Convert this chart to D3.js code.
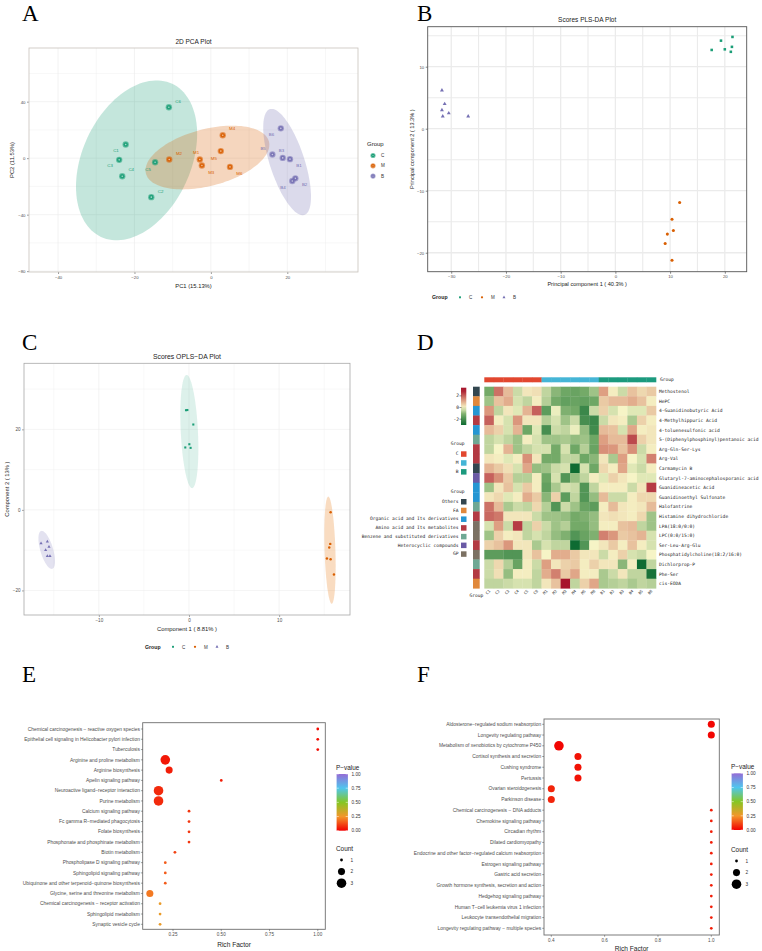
<!DOCTYPE html>
<html><head><meta charset="utf-8">
<script src="https://cdn.jsdelivr.net/npm/d3@7/dist/d3.min.js"></script>
<style>
html,body{margin:0;padding:0;background:#fff;}
svg text{font-family:"Liberation Sans",Arial,sans-serif;}
</style></head>
<body><svg id="fig" width="762" height="951"></svg>
<script>
// ---------------- DATA ----------------
const groupNames = ["C","M","B"];
const groupColors = {C:"#1B9E77", M:"#D95F02", B:"#7570B3"};

// Panel A – PCA
const pcaLabels = ["C1","C2","C3","C4","C5","C6","M1","M2","M3","M4","M5","M6","B1","B2","B3","B4","B5","B6"];
const pcaX = [-22.3,-15.6,-24.0,-23.2,-14.6,-11.0, -2.9,-10.9,-2.35,3.1,2.6,5.0, 20.7,22.1,18.8,21.3,16.1,18.3];
const pcaY = [9.7,-27.6,-1.2,-12.8,-2.9,36.1, -0.95,-0.95,-5.2,16.2,5.0,-6.2, -0.7,-14.3,0.2,-16.2,2.6,21.1];
const pcaXTicks = [-40,-20,0,20];
const pcaYTicks = [-80,-40,0,40];
// ellipse params: centre, half-extents, correlation
const pcaEllCx = [-19.45,-0.9,19.95], pcaEllCy = [-1.55,0.45,-2.75];
const pcaEllHx = [15.85,16.2,6.25], pcaEllHy = [56.6,22.55,37.65], pcaEllRho = [0.33,0.4,-0.65];

// Panel B – PLS-DA
const plsGroup = ["C","C","C","C","C","C","M","M","M","M","M","M","B","B","B","B","B","B"];
const plsX = [21.4,19.3,21.3,17.6,20.0,21.1, 11.75,10.35,10.6,9.5,9.1,10.35, -31.7,-31.2,-31.7,-30.45,-31.55,-26.9];
const plsY = [14.8,14.2,13.2,12.7,12.8,12.4, -11.9,-14.6,-16.4,-17.0,-18.5,-21.2, 6.2,4.0,3.0,2.5,2.0,2.0];
const plsXTicks = [-30,-20,-10,0,10,20];
const plsYTicks = [-20,-10,0,10];

// Panel C – OPLS-DA
const oplsGroup = plsGroup;
const oplsX = [-0.33,-0.18,0.48,0.04,-0.41,0.18, 15.71,15.67,15.56,15.3,15.71,16.08, -16.41,-15.71,-15.53,-15.9,-15.71,-15.42];
const oplsY = [24.75,24.8,21.2,16.3,15.5,15.4, -0.58,-8.44,-9.35,-12.09,-12.25,-16.06, -8.28,-7.86,-9.19,-10.0,-11.5,-11.5];
const oplsXTicks = [-10,0,10];
const oplsYTicks = [-20,0,20];
const oplsEllCx = [0.04,15.64,-15.78], oplsEllCy = [19.45,-10.0,-9.93];
const oplsEllHx = [1.0,0.63,0.92], oplsEllHy = [14.05,13.3,4.72], oplsEllRho = [-0.3,-0.3,-0.6];

// Panel D – heatmap
const hmCols = ["C1","C2","C3","C4","C5","C6","M1","M2","M3","M4","M5","M6","B1","B2","B3","B4","B5","B6"];
const hmColGroup = ["C","C","C","C","C","C","M","M","M","M","M","M","B","B","B","B","B","B"];
const hmRows = ["Methostenol","HePC","4-Guanidinobutyric Acid","4-Methylhippuric Acid","4-toluenesulfonic acid",
 "5-(Diphenylphosphinyl)pentanoic acid","Arg-Gln-Ser-Lys","Arg-Val","Carmamycin B","Glutaryl-7-aminocephalosporanic acid",
 "Guanidineacetic Acid","Guanidinoethyl Sulfonate","Halofantrine","Histamine dihydrochloride","LPA(18:0/0:0)",
 "LPC(0:0/15:0)","Ser-Leu-Arg-Glu","Phosphatidylcholine(18:2/16:0)","Dichlorprop-P","Phe-Ser","cis-EODA"];
const hmRowClass = ["Others","FA","Organic acid and Its derivatives","Amino acid and Its metabolites","Organic acid and Its derivatives",
 "Benzene and substituted derivatives","Amino acid and Its metabolites","Amino acid and Its metabolites","Others","Heterocyclic compounds",
 "Organic acid and Its derivatives","Organic acid and Its derivatives","Benzene and substituted derivatives","Amino acid and Its metabolites","GP",
 "GP","Amino acid and Its metabolites","GP","Benzene and substituted derivatives","Amino acid and Its metabolites","FA"];
const hmValues = [
 [-1.2,1.8,0.8,-0.4,0.2,0.3, -0.5,-1.0,-1.3,-1.4,-1.2,-0.8, 1.2,0.1,-0.4,0.7,0.4,0.6],
 [-0.8,0.7,1.0,-0.3,-0.5,0.1, -0.6,-1.2,-1.5,-1.4,-1.5,-1.3, 0.6,0.8,0.8,1.0,0.7,0.1],
 [1.3,-0.5,0.2,-0.2,0.9,2.0, -1.6,-0.1,-1.1,-1.2,-2.2,-0.4, 0.5,-0.3,0.0,-0.2,-0.2,0.6],
 [2.0,0.1,-0.3,1.3,0.2,0.2, -0.6,-0.3,-0.8,-0.4,-2.0,-2.2, -0.4,0.2,0.1,-0.7,0.5,0.1],
 [0.8,0.5,-0.3,0.9,-1.3,-0.2, -2.0,-0.4,-0.5,-0.1,-0.9,-2.1, 0.8,0.7,-0.3,1.1,0.1,0.2],
 [-0.5,-0.3,-0.5,-0.8,0.1,-0.3, -0.8,-0.8,-0.7,-0.9,-0.8,-1.3, 1.2,0.8,0.8,2.3,0.5,0.2],
 [-0.5,0.0,0.9,-0.8,-0.5,-0.3, -0.3,-1.2,-0.3,-1.3,-0.6,-1.4, 1.4,1.3,0.7,1.4,-0.4,0.1],
 [0.2,0.1,-0.2,0.1,1.4,0.2, -1.2,-1.2,-0.5,-0.5,-1.3,-1.0, 0.2,-0.7,1.2,0.0,-0.3,1.6],
 [0.9,0.6,0.3,-0.3,1.1,-0.9, -0.8,-0.4,-0.3,-3.0,-0.3,-1.3, 0.4,0.1,1.1,-0.2,-0.4,0.1],
 [2.0,1.4,0.6,-0.6,-0.6,0.1, -1.3,-0.3,-1.8,-0.9,-0.5,0.1, -0.2,0.5,0.2,0.0,-0.2,-0.2],
 [-0.8,0.2,0.7,-0.3,0.6,0.1, -1.5,-0.7,-0.3,-0.4,-1.8,-0.5, 0.1,0.1,0.1,-0.4,0.2,2.5],
 [0.2,0.4,-0.2,0.1,1.0,0.6, -1.0,0.5,-1.6,-0.5,-1.8,-0.9, 0.8,-0.4,-0.4,0.1,0.4,0.4],
 [1.8,0.8,-0.7,-0.4,-0.5,0.4, -0.6,-1.8,-0.4,-0.8,-1.4,-1.6, 0.1,0.8,0.2,0.1,0.2,0.8],
 [1.9,1.7,0.2,0.2,0.2,-0.4, -0.8,-0.8,-0.9,-1.2,-1.1,-0.9, 0.2,0.3,0.2,0.1,0.4,-0.8],
 [-0.3,1.2,-0.4,2.5,-0.5,0.5, -0.4,-0.8,-0.6,-1.2,-1.2,-0.9, 0.1,0.1,0.7,0.8,-0.5,-0.8],
 [-0.8,0.5,0.1,0.2,-0.5,-0.3, -0.5,-0.9,-1.1,-1.8,-1.4,-1.1, 1.6,1.3,0.6,0.7,0.9,-0.3],
 [0.5,0.7,1.3,0.2,0.2,-0.7, -0.3,-0.5,-0.5,-3.0,-1.8,0.0, 0.2,0.6,0.1,0.7,0.1,-0.3],
 [-1.6,-1.6,-1.8,-1.8,0.2,0.7, 0.0,1.0,1.0,0.6,0.2,0.2, -0.4,0.1,0.5,-0.3,-0.4,0.0],
 [-0.4,0.4,-0.6,-1.4,0.1,-0.4, 1.2,0.2,0.5,0.6,0.1,0.5, 0.2,0.2,-1.0,0.1,-3.0,-0.5],
 [-0.4,0.3,-0.9,0.1,0.1,-0.5, 1.0,1.6,0.6,1.1,0.1,0.1, -0.7,-0.4,0.2,-0.5,-0.5,-2.8],
 [-0.5,-0.5,-0.4,-0.3,-0.3,-0.5, 0.2,0.7,3.0,-0.5,0.5,1.1, -0.7,-0.6,-0.5,-0.7,-0.5,-0.6]
];
const hmLegendTicks = [-2,0,2];
const hmClassNames = ["Others","FA","Organic acid and Its derivatives","Amino acid and Its metabolites","Benzene and substituted derivatives","Heterocyclic compounds","GP"];
const hmClassColors = ["#33464F","#E0883C","#2596D3","#B33A43","#6FA894","#6A5AA5","#7C7163"];
const hmGroupColors = {C:"#E2472F", M:"#45B5D6", B:"#1C9A7E"};

// Panel E – KEGG enrichment
const ePathways = ["Chemical carcinogenesis \u2212 reactive oxygen species","Epithelial cell signaling in Helicobacter pylori infection","Tuberculosis",
 "Arginine and proline metabolism","Arginine biosynthesis","Apelin signaling pathway","Neuroactive ligand\u2212receptor interaction","Purine metabolism",
 "Calcium signaling pathway","Fc gamma R\u2212mediated phagocytosis","Folate biosynthesis","Phosphonate and phosphinate metabolism","Biotin metabolism",
 "Phospholipase D signaling pathway","Sphingolipid signaling pathway","Ubiquinone and other terpenoid\u2212quinone biosynthesis",
 "Glycine, serine and threonine metabolism","Chemical carcinogenesis \u2212 receptor activation","Sphingolipid metabolism","Synaptic vesicle cycle"];
const eRich = [1,1,1,0.21,0.23,0.5,0.175,0.175,0.333,0.333,0.333,0.333,0.26,0.21,0.21,0.21,0.13,0.183,0.183,0.183];
const eCount = [1,1,1,3,2,1,3,3,1,1,1,1,1,1,1,1,2,1,1,1];
const eP = [0.02,0.02,0.02,0.04,0.05,0.05,0.07,0.07,0.09,0.09,0.09,0.09,0.11,0.15,0.15,0.15,0.2,0.27,0.27,0.27];
const eXTicks = [0.25,0.5,0.75,1.0];

// Panel F
const fPathways = ["Aldosterone\u2212regulated sodium reabsorption","Longevity regulating pathway","Metabolism of xenobiotics by cytochrome P450",
 "Cortisol synthesis and secretion","Cushing syndrome","Pertussis","Ovarian steroidogenesis","Parkinson disease",
 "Chemical carcinogenesis \u2212 DNA adducts","Chemokine signaling pathway","Circadian rhythm","Dilated cardiomyopathy",
 "Endocrine and other factor\u2212regulated calcium reabsorption","Estrogen signaling pathway","Gastric acid secretion",
 "Growth hormone synthesis, secretion and action","Hedgehog signaling pathway","Human T\u2212cell leukemia virus 1 infection",
 "Leukocyte transendothelial migration","Longevity regulating pathway \u2212 multiple species"];
const fRich = [1,1,0.4286,0.5,0.5,0.5,0.4,0.4,1,1,1,1,1,1,1,1,1,1,1,1];
const fCount = [2,2,3,2,2,2,2,2,1,1,1,1,1,1,1,1,1,1,1,1];
const fP = [0.01,0.01,0.01,0.03,0.03,0.03,0.06,0.06,0.05,0.05,0.05,0.05,0.05,0.05,0.05,0.05,0.05,0.05,0.05,0.05];
const fXTicks = [0.4,0.6,0.8,1.0];
const pLegendTicks = [0,0.25,0.5,0.75,1.0];
const countLegend = [1,2,3];

// ---------------- DRAW ----------------
const svg = d3.select("#fig");
svg.append("rect").attr("width",762).attr("height",951).attr("fill","#fff");

function letter(t,x,y){
  svg.append("text").attr("x",x).attr("y",y).text(t)
    .style("font-family","'Liberation Serif','Times New Roman',serif").style("font-size","23px").attr("fill","#000");
}
letter("A",22,21); letter("B",417,21); letter("C",22,350); letter("D",417,350); letter("E",22,682); letter("F",417,682);

function ellipsePath(xs,ys,cx,cy,hx,hy,rho){
  const d = Math.acos(rho), pts=[];
  for(let i=0;i<=120;i++){const t=i/120*2*Math.PI; pts.push([xs(cx+hx*Math.cos(t)), ys(cy+hy*Math.cos(t-d))]);}
  return d3.line()(pts)+"Z";
}

function scatterFrame(c){
  const g = svg.append("g");
  const xs = d3.scaleLinear().domain(c.xDom).range([c.L,c.R]);
  const ys = d3.scaleLinear().domain(c.yDom).range([c.B,c.T]);
  const clipId = "clip"+c.id;
  svg.append("clipPath").attr("id",clipId).append("rect").attr("x",c.L).attr("y",c.T).attr("width",c.R-c.L).attr("height",c.B-c.T);
  g.append("rect").attr("x",c.L).attr("y",c.T).attr("width",c.R-c.L).attr("height",c.B-c.T).attr("fill","#fff");
  const grid = g.append("g").attr("clip-path",`url(#${clipId})`);
  c.xMinor.forEach(v=>grid.append("line").attr("x1",xs(v)).attr("x2",xs(v)).attr("y1",c.T).attr("y2",c.B).attr("stroke",c.gridCol).attr("stroke-width",c.minorW));
  c.yMinor.forEach(v=>grid.append("line").attr("y1",ys(v)).attr("y2",ys(v)).attr("x1",c.L).attr("x2",c.R).attr("stroke",c.gridCol).attr("stroke-width",c.minorW));
  c.xTicks.forEach(v=>grid.append("line").attr("x1",xs(v)).attr("x2",xs(v)).attr("y1",c.T).attr("y2",c.B).attr("stroke",c.gridCol).attr("stroke-width",c.majorW));
  c.yTicks.forEach(v=>grid.append("line").attr("y1",ys(v)).attr("y2",ys(v)).attr("x1",c.L).attr("x2",c.R).attr("stroke",c.gridCol).attr("stroke-width",c.majorW));
  const plot = g.append("g").attr("clip-path",`url(#${clipId})`);
  const top = g.append("g");
  // axes
  const xa = d3.axisBottom(xs).tickValues(c.xTicks).tickSize(2).tickPadding(1.5).tickFormat(d3.format("d"));
  const ya = d3.axisLeft(ys).tickValues(c.yTicks).tickSize(2).tickPadding(1.5).tickFormat(d3.format("d"));
  const gx = top.append("g").attr("transform",`translate(0,${c.B})`).call(xa);
  const gy = top.append("g").attr("transform",`translate(${c.L},0)`).call(ya);
  [gx,gy].forEach(a=>{a.select(".domain").remove();
    a.selectAll("line").attr("stroke",c.tickCol).attr("stroke-width",0.6);
    a.selectAll("text").attr("fill","#4D4D4D").style("font-size",c.tickFs+"px").style("font-family","'Liberation Sans',Arial,sans-serif");});
  top.append("rect").attr("x",c.L).attr("y",c.T).attr("width",c.R-c.L).attr("height",c.B-c.T)
    .attr("fill","none").attr("stroke",c.borderCol).attr("stroke-width",c.borderW);
  // titles
  top.append("text").attr("x",(c.L+c.R)/2).attr("y",c.titleY).attr("text-anchor","middle").style("font-size",c.titleFs+"px").attr("fill","#222").text(c.title);
  top.append("text").attr("x",(c.L+c.R)/2).attr("y",c.xLabY).attr("text-anchor","middle").style("font-size",c.labFs+"px").attr("fill","#222").text(c.xLab);
  top.append("text").attr("transform",`translate(${c.yLabX},${(c.T+c.B)/2}) rotate(-90)`).attr("text-anchor","middle").style("font-size",c.labFs+"px").attr("fill","#222").text(c.yLab);
  return {xs,ys,plot,top};
}

// ---- Panel A
(function(){
  const f = scatterFrame({id:"A",L:29,R:358,T:48,B:272,xDom:[-47.6,38.5],yDom:[-80.6,78],
    xTicks:pcaXTicks,yTicks:pcaYTicks,xMinor:[-30,-10,10,30],yMinor:[-60,-20,20,60],
    gridCol:"#EBEBEB",minorW:0.4,majorW:0.6,tickCol:"#555",tickFs:4.3,borderCol:"#C9C2BC",borderW:0.8,
    title:"2D PCA Plot",titleY:44,titleFs:6.5,xLab:"PC1 (15.13%)",xLabY:287.5,yLab:"PC2 (11.53%)",yLabX:14,labFs:5.8});
  groupNames.forEach((gname,i)=>{
    f.plot.append("path").attr("d",ellipsePath(f.xs,f.ys,pcaEllCx[i],pcaEllCy[i],pcaEllHx[i],pcaEllHy[i],pcaEllRho[i]))
      .attr("fill",groupColors[gname]).attr("fill-opacity",0.26).attr("stroke","none");
  });
  const offs = {C1:[-9.7,6.3],C2:[9.3,-6],C3:[-9,5.7],C4:[9,-6.7],C5:[-7,7.3],C6:[9.3,-6],
    M1:[-3.7,-7.3],M2:[9.7,-6.3],M3:[9.3,7.3],M4:[9.3,-6.7],M5:[-7,7.7],M6:[9.3,6.3],
    B1:[9,6.3],B2:[9.3,6],B3:[-1.3,-7.7],B4:[-9.3,6.3],B5:[-9.3,-6],B6:[-9.3,6.3]};
  pcaLabels.forEach((lab,i)=>{
    const col = groupColors[lab[0]], px=f.xs(pcaX[i]), py=f.ys(pcaY[i]);
    f.plot.append("circle").attr("cx",px).attr("cy",py).attr("r",3.2).attr("fill",col).attr("fill-opacity",0.55);
    f.plot.append("circle").attr("cx",px).attr("cy",py).attr("r",2.3).attr("fill",col).attr("fill-opacity",0.9);
    f.plot.append("circle").attr("cx",px).attr("cy",py).attr("r",0.8).attr("fill","#fff").attr("fill-opacity",0.6);
    f.plot.append("text").attr("x",px+offs[lab][0]).attr("y",py+offs[lab][1]+1.5).attr("text-anchor","middle")
      .style("font-size","4.4px").attr("fill",col).text(lab);
  });
  // legend
  const lg = svg.append("g");
  lg.append("text").attr("x",367).attr("y",146).style("font-size","6px").attr("fill","#222").text("Group");
  groupNames.forEach((gname,i)=>{
    const y=155.5+i*10.3, col=groupColors[gname];
    lg.append("circle").attr("cx",373).attr("cy",y).attr("r",2.6).attr("fill",col).attr("fill-opacity",0.6);
    lg.append("circle").attr("cx",373).attr("cy",y).attr("r",1.8).attr("fill",col);
    lg.append("circle").attr("cx",373).attr("cy",y).attr("r",0.6).attr("fill","#fff").attr("fill-opacity",0.6);
    lg.append("text").attr("x",381).attr("y",y+1.6).style("font-size","4.6px").attr("fill","#333").text(gname);
  });
})();

function shape(g,gname,x,y,s){
  const col=groupColors[gname];
  if(gname==="C") g.append("rect").attr("x",x-s*0.8).attr("y",y-s*0.8).attr("width",s*1.6).attr("height",s*1.6).attr("fill",col);
  else if(gname==="M") g.append("circle").attr("cx",x).attr("cy",y).attr("r",s*0.95).attr("fill",col);
  else g.append("path").attr("d",d3.symbol(d3.symbolTriangle, s*s*2.6)()).attr("transform",`translate(${x},${y})`).attr("fill",col);
}
function bottomLegend(x,y){
  const lg=svg.append("g");
  lg.append("text").attr("x",x).attr("y",y).style("font-size","5.2px").style("font-weight","bold").attr("fill","#222").text("Group");
  groupNames.forEach((gname,i)=>{
    shape(lg,gname,x+28+i*22,y-1.7,1.2);
    lg.append("text").attr("x",x+37+i*22).attr("y",y).style("font-size","4.5px").attr("fill","#333").text(gname);
  });
}

// ---- Panel B
(function(){
  const f = scatterFrame({id:"B",L:427.7,R:746.7,T:26.7,B:271.7,xDom:[-34.3,24.0],yDom:[-23.06,16.45],
    xTicks:plsXTicks,yTicks:plsYTicks,xMinor:[-25,-15,-5,5,15],yMinor:[-15,-5,5,15],
    gridCol:"#EBEBEB",minorW:1.1,majorW:1.3,tickCol:"#333",tickFs:4.3,borderCol:"#555",borderW:0.9,
    title:"Scores PLS-DA Plot",titleY:21.5,titleFs:6.5,xLab:"Principal component 1 ( 40.3% )",xLabY:286,
    yLab:"Principal component 2 ( 13.3% )",yLabX:414,labFs:5.6});
  plsGroup.forEach((gname,i)=>shape(f.plot,gname,f.xs(plsX[i]),f.ys(plsY[i]),1.6));
  bottomLegend(432,299);
})();

// ---- Panel C
(function(){
  const f = scatterFrame({id:"C",L:24,R:350,T:363.3,B:615,xDom:[-18.3,17.86],yDom:[-26.1,36.4],
    xTicks:oplsXTicks,yTicks:oplsYTicks,xMinor:[-15,-5,5,15],yMinor:[-10,10,30],
    gridCol:"#EDEDED",minorW:0.4,majorW:0.6,tickCol:"#666",tickFs:4.6,borderCol:"#A8A8A8",borderW:0.8,
    title:"Scores OPLS\u2212DA Plot",titleY:358.5,titleFs:6.8,xLab:"Component 1 ( 8.81% )",xLabY:630.5,
    yLab:"Component 2 ( 13% )",yLabX:9,labFs:5.8});
  const ellCol = {C:"#1B9E77",M:"#EE9A4D",B:"#7570B3"}, ellOp={C:0.15,M:0.35,B:0.2};
  groupNames.forEach((gname,i)=>{
    f.plot.append("path").attr("d",ellipsePath(f.xs,f.ys,oplsEllCx[i],oplsEllCy[i],oplsEllHx[i],oplsEllHy[i],oplsEllRho[i]))
      .attr("fill",ellCol[gname]).attr("fill-opacity",ellOp[gname]);
  });
  oplsGroup.forEach((gname,i)=>shape(f.plot,gname,f.xs(oplsX[i]),f.ys(oplsY[i]),1.3));
  bottomLegend(145,648.5);
})();

// ---- Panel D heatmap
(function(){
  const L=484.3,R=656,T=386.7,Bt=588.3;
  const xs=d3.scaleBand().domain(hmCols).range([L,R]);
  const ys=d3.scaleBand().domain(hmRows).range([T,Bt]);
  const cs=d3.scaleLinear().domain([-3,-1.2,0,1.2,3]).range(["#0E6B32","#74AA68","#F6F4C6","#DE9F82","#A7142C"]).clamp(true);
  const mono="'DejaVu Sans Mono',monospace";
  const g=svg.append("g");
  hmRows.forEach((r,i)=>hmCols.forEach((c,j)=>{
    g.append("rect").attr("x",xs(c)).attr("y",ys(r)).attr("width",xs.bandwidth()+0.3).attr("height",ys.bandwidth()+0.3).attr("fill",cs(hmValues[i][j]));
  }));
  // top group bar
  hmCols.forEach((c,j)=>g.append("rect").attr("x",xs(c)).attr("y",377.3).attr("width",xs.bandwidth()+0.3).attr("height",5).attr("fill",hmGroupColors[hmColGroup[j]]));
  g.append("text").attr("x",660).attr("y",381.3).style("font-family",mono).style("font-size","4.6px").attr("fill","#222").text("Group");
  // row annotation
  const classCol = d3.scaleOrdinal().domain(hmClassNames).range(hmClassColors);
  hmRows.forEach((r,i)=>g.append("rect").attr("x",473).attr("y",ys(r)).attr("width",6.7).attr("height",ys.bandwidth()+0.3).attr("fill",classCol(hmRowClass[i])));
  // row labels
  hmRows.forEach(r=>g.append("text").attr("x",659).attr("y",ys(r)+ys.bandwidth()/2+1.6).style("font-family",mono).style("font-size","4.6px").attr("fill","#222").text(r));
  // col labels
  hmCols.forEach(c=>g.append("text").attr("transform",`translate(${xs(c)+xs.bandwidth()/2+1.5},${591.5}) rotate(-45)`).attr("text-anchor","end")
     .style("font-family",mono).style("font-size","3.8px").attr("fill","#222").text(c));
  g.append("text").attr("x",476.3).attr("y",597).attr("text-anchor","middle").style("font-family",mono).style("font-size","4.6px").attr("fill","#222").text("Group");
  // colour legend
  const defs=svg.append("defs");
  const grad=defs.append("linearGradient").attr("id","hmGrad").attr("x1",0).attr("x2",0).attr("y1",1).attr("y2",0);
  d3.range(0,1.001,0.1).forEach(t=>grad.append("stop").attr("offset",t).attr("stop-color",cs(-3+6.4*t)));
  const ly=d3.scaleLinear().domain([-3.0,3.4]).range([425,387.7]);
  g.append("rect").attr("x",461).attr("y",387.7).attr("width",5.3).attr("height",37.3).attr("fill","url(#hmGrad)");
  hmLegendTicks.forEach(v=>{
    g.append("line").attr("x1",459.5).attr("x2",461.5).attr("y1",ly(v)).attr("y2",ly(v)).attr("stroke","#222").attr("stroke-width",0.5);
    g.append("text").attr("x",459).attr("y",ly(v)+1.5).attr("text-anchor","end").style("font-family",mono).style("font-size","4.6px").attr("fill","#222").text(v);
  });
  // group legend
  g.append("text").attr("x",464.5).attr("y",445).attr("text-anchor","end").style("font-family",mono).style("font-size","4.6px").attr("fill","#222").text("Group");
  groupNames.forEach((gn,i)=>{
    const y=451.3+i*8.9;
    g.append("rect").attr("x",461).attr("y",y).attr("width",5.5).attr("height",5.5).attr("fill",hmGroupColors[gn]);
    g.append("text").attr("x",458.5).attr("y",y+4).attr("text-anchor","end").style("font-family",mono).style("font-size","4.6px").attr("fill","#222").text(gn);
  });
  g.append("text").attr("x",464.5).attr("y",492.5).attr("text-anchor","end").style("font-family",mono).style("font-size","4.6px").attr("fill","#222").text("Group");
  hmClassNames.forEach((cn,i)=>{
    const y=499+i*8.72;
    g.append("rect").attr("x",461).attr("y",y).attr("width",5.5).attr("height",5.5).attr("fill",hmClassColors[i]);
    g.append("text").attr("x",458.5).attr("y",y+4).attr("text-anchor","end").style("font-family",mono).style("font-size","4.6px").attr("fill","#222").text(cn);
  });
})();

// ---- Enrichment panels
const pColor = d3.scaleLinear().domain([0,0.25,0.5,0.75,1]).range(["#F20000","#F3972A","#85C623","#4FC6EE","#946CD6"]);
const rScale = v => Math.sqrt(1.9 + (v-1)/2*(23-1.9));
function enrich(c){
  const g=svg.append("g");
  const xs=d3.scaleLinear().domain(c.xDom).range([c.L,c.R]);
  const ys=d3.scalePoint().domain(c.names).range([c.y0,c.y1]);
  g.append("rect").attr("x",c.L).attr("y",c.T).attr("width",c.R-c.L).attr("height",c.B-c.T).attr("fill","#fff").attr("stroke","#6E6E6E").attr("stroke-width",0.9);
  c.names.forEach((n,i)=>{
    g.append("line").attr("x1",c.L-1.8).attr("x2",c.L).attr("y1",ys(n)).attr("y2",ys(n)).attr("stroke","#444").attr("stroke-width",0.5);
    g.append("text").attr("x",c.L-2.8).attr("y",ys(n)+1.7).attr("text-anchor","end").style("font-size","4.9px").attr("fill","#4D4D4D").text(n);
  });
  c.xTicks.forEach(v=>{
    g.append("line").attr("x1",xs(v)).attr("x2",xs(v)).attr("y1",c.B).attr("y2",c.B+1.8).attr("stroke","#444").attr("stroke-width",0.5);
    g.append("text").attr("x",xs(v)).attr("y",c.B+6.8).attr("text-anchor","middle").style("font-size","4.6px").attr("fill","#4D4D4D").text(c.fmt(v));
  });
  c.names.forEach((n,i)=>g.append("circle").attr("cx",xs(c.rich[i])).attr("cy",ys(n)).attr("r",rScale(c.count[i])).attr("fill",pColor(c.p[i])));
  g.append("text").attr("x",(c.L+c.R)/2).attr("y",c.xLabY).attr("text-anchor","middle").style("font-size","6.6px").attr("fill","#222").text("Rich Factor");
  // P legend
  const id="pg"+c.id;
  const grad=svg.append("defs").append("linearGradient").attr("id",id).attr("x1",0).attr("x2",0).attr("y1",1).attr("y2",0);
  d3.range(0,1.001,0.05).forEach(t=>grad.append("stop").attr("offset",t).attr("stop-color",pColor(t)));
  g.append("text").attr("x",c.lgX).attr("y",c.lgT).style("font-size","6.4px").attr("fill","#222").text("P\u2212value");
  const ly=d3.scaleLinear().domain([0,1]).range([c.barB,c.barT]);
  g.append("rect").attr("x",c.lgX+0.6).attr("y",c.barT).attr("width",11.3).attr("height",c.barB-c.barT).attr("fill",`url(#${id})`);
  pLegendTicks.forEach(v=>{
    g.append("line").attr("x1",c.lgX+0.6).attr("x2",c.lgX+2.8).attr("y1",ly(v)).attr("y2",ly(v)).attr("stroke","#fff").attr("stroke-width",0.5);
    g.append("line").attr("x1",c.lgX+9.7).attr("x2",c.lgX+11.9).attr("y1",ly(v)).attr("y2",ly(v)).attr("stroke","#fff").attr("stroke-width",0.5);
    g.append("text").attr("x",c.lgX+15.5).attr("y",ly(v)+1.7).style("font-size","4.7px").attr("fill","#333").text(v.toFixed(2));
  });
  g.append("text").attr("x",c.lgX).attr("y",c.cntT).style("font-size","6.4px").attr("fill","#222").text("Count");
  countLegend.forEach((v,i)=>{
    const y=c.cntY0+i*11.6;
    g.append("circle").attr("cx",c.lgX+5.5).attr("cy",y).attr("r",rScale(v)).attr("fill","#000");
    g.append("text").attr("x",c.lgX+14.5).attr("y",y+1.7).style("font-size","4.7px").attr("fill","#333").text(v);
  });
}
enrich({id:"E",L:142.7,R:325.3,T:722.7,B:929.3,y0:729,y1:924.3,xDom:[0.093,1.039],names:ePathways,rich:eRich,count:eCount,p:eP,
  xTicks:eXTicks,fmt:d3.format(".2f"),xLabY:946.5,lgX:336,lgT:770,barT:774,barB:830.7,cntT:851,cntY0:860});
enrich({id:"F",L:544,R:719.3,T:719,B:935,y0:724.3,y1:928.3,xDom:[0.3726,1.03],names:fPathways,rich:fRich,count:fCount,p:fP,
  xTicks:fXTicks,fmt:d3.format(".1f"),xLabY:950.5,lgX:731,lgT:768.5,barT:773.3,barB:830,cntT:852,cntY0:861});
</script></body></html>
